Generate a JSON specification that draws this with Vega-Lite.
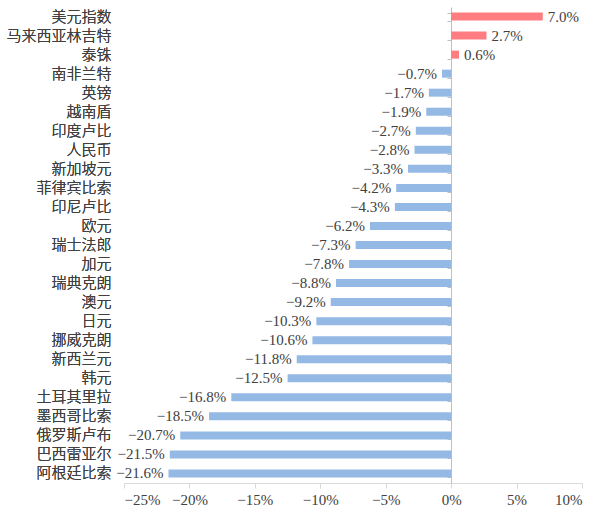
{
  "$schema": "https://vega.github.io/schema/vega-lite/v6.json",
  "autosize": "none",
  "padding": {"left": 124, "top": 7, "right": 19, "bottom": 30},
  "width": 458,
  "height": 476,
  "background": "white",
  "config": {"view": {"stroke": null}},
  "data": {"values": [
    {"c": "美元指数", "v": 0.070},
    {"c": "马来西亚林吉特", "v": 0.027},
    {"c": "泰铢", "v": 0.006},
    {"c": "南非兰特", "v": -0.007},
    {"c": "英镑", "v": -0.017},
    {"c": "越南盾", "v": -0.019},
    {"c": "印度卢比", "v": -0.027},
    {"c": "人民币", "v": -0.028},
    {"c": "新加坡元", "v": -0.033},
    {"c": "菲律宾比索", "v": -0.042},
    {"c": "印尼卢比", "v": -0.043},
    {"c": "欧元", "v": -0.062},
    {"c": "瑞士法郎", "v": -0.073},
    {"c": "加元", "v": -0.078},
    {"c": "瑞典克朗", "v": -0.088},
    {"c": "澳元", "v": -0.092},
    {"c": "日元", "v": -0.103},
    {"c": "挪威克朗", "v": -0.106},
    {"c": "新西兰元", "v": -0.118},
    {"c": "韩元", "v": -0.125},
    {"c": "土耳其里拉", "v": -0.168},
    {"c": "墨西哥比索", "v": -0.185},
    {"c": "俄罗斯卢布", "v": -0.207},
    {"c": "巴西雷亚尔", "v": -0.215},
    {"c": "阿根廷比索", "v": -0.216}
  ]},
  "encoding": {
    "x": {
      "field": "v", "type": "quantitative",
      "scale": {"domain": [-0.25, 0.10], "nice": false, "zero": false},
      "axis": {
        "title": null, "values": [-0.25, -0.2, -0.15, -0.1, -0.05, 0, 0.05, 0.1],
        "format": ".0%", "grid": false,
        "domainColor": "#D9D9D9", "tickColor": "#D9D9D9", "tickSize": 5,
        "labelFont": "Liberation Serif", "labelFontSize": 15, "labelColor": "#404040",
        "labelPadding": 4
      }
    },
    "y": {
      "field": "c", "type": "nominal", "sort": null,
      "scale": {"paddingInner": 0.58, "paddingOuter": 0.29},
      "axis": {
        "title": null, "orient": "left", "domain": false, "ticks": false,
        "labelFont": "Noto Sans CJK SC", "labelFontSize": 15, "labelFontWeight": 300,
        "labelColor": "#404040", "labelPadding": 13
      }
    }
  },
  "layer": [
    {
      "mark": {"type": "bar"},
      "encoding": {
        "x2": {"datum": 0},
        "color": {"condition": {"test": "datum.v > 0", "value": "#FF7C80"}, "value": "#95B9E5"}
      }
    },
    {
      "transform": [{"filter": "datum.v < 0"}],
      "mark": {"type": "text", "align": "right", "dx": -5, "font": "Liberation Serif", "fontSize": 15, "color": "#404040"},
      "encoding": {"text": {"field": "v", "type": "quantitative", "format": ".1%"}}
    },
    {
      "transform": [{"filter": "datum.v > 0"}],
      "mark": {"type": "text", "align": "left", "dx": 5, "font": "Liberation Serif", "fontSize": 15, "color": "#404040"},
      "encoding": {"text": {"field": "v", "type": "quantitative", "format": ".1%"}}
    },
    {
      "mark": {"type": "bar", "opacity": 0},
      "encoding": {
        "x2": {"datum": 0},
        "y": {
          "field": "c", "type": "nominal", "sort": null,
          "axis": {
            "title": null, "orient": "left", "offset": -327, "labels": false,
            "domain": true, "domainColor": "#BFBFBF", "ticks": true, "tickColor": "#BFBFBF",
            "tickSize": 4, "tickBand": "extent"
          }
        }
      }
    }
  ],
  "resolve": {"axis": {"y": "independent"}}
}
